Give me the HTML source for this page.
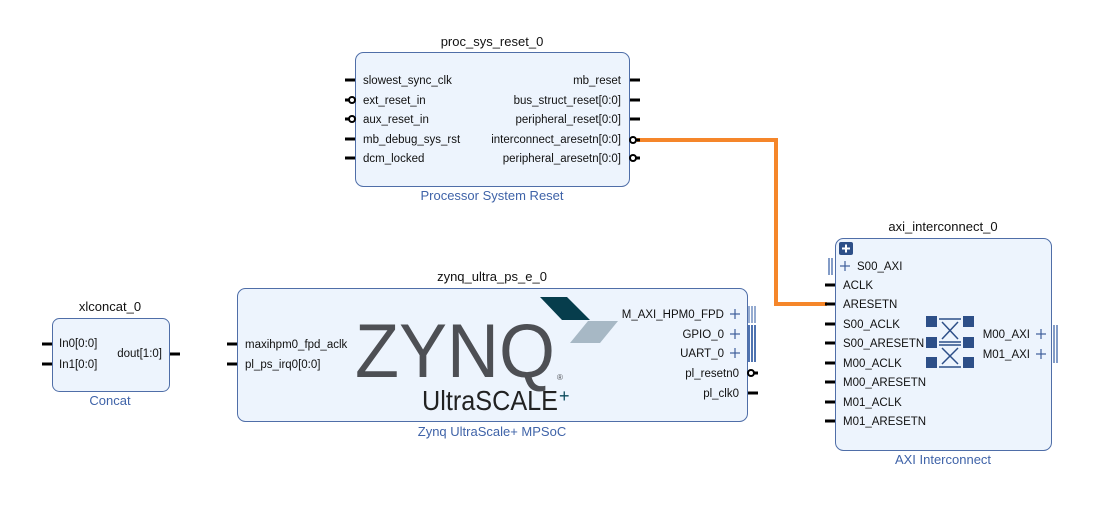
<!DOCTYPE html>
<html><head><meta charset="utf-8"><style>
html,body{margin:0;padding:0;background:#fff}
svg{display:block}
text{font-family:"Liberation Sans",sans-serif;fill:#111}
.p{font-size:11.5px}
.t{font-size:13px}
.s{font-size:13px;fill:#3f63a8}
.b{fill:#edf4fd;stroke:#4f6ea8;stroke-width:1}
.pin{stroke:#000;stroke-width:3}
.plus{stroke:#3f5f9a;stroke-width:1.2}
</style></head><body>
<svg width="1093" height="526" viewBox="0 0 1093 526">
<polyline points="637,140 776,140 776,304 827,304" fill="none" stroke="#f5862a" stroke-width="4"/>

<text class="t" x="492" y="46" text-anchor="middle">proc_sys_reset_0</text>
<rect class="b" x="355.5" y="52.5" width="274" height="134" rx="8"/>
<text class="s" x="492" y="200" text-anchor="middle">Processor System Reset</text>
<g class="p">
<text x="363" y="84">slowest_sync_clk</text>
<text x="363" y="104">ext_reset_in</text>
<text x="363" y="123">aux_reset_in</text>
<text x="363" y="143">mb_debug_sys_rst</text>
<text x="363" y="162">dcm_locked</text>
<text x="621" y="84" text-anchor="end">mb_reset</text>
<text x="621" y="104" text-anchor="end">bus_struct_reset[0:0]</text>
<text x="621" y="123" text-anchor="end">peripheral_reset[0:0]</text>
<text x="621" y="143" text-anchor="end">interconnect_aresetn[0:0]</text>
<text x="621" y="162" text-anchor="end">peripheral_aresetn[0:0]</text>
</g>
<line class="pin" x1="345" y1="80" x2="355" y2="80"/>
<line class="pin" x1="345" y1="100" x2="350" y2="100"/><circle cx="352" cy="100" r="3" fill="#fff" stroke="#000" stroke-width="2"/>
<line class="pin" x1="345" y1="119" x2="350" y2="119"/><circle cx="352" cy="119" r="3" fill="#fff" stroke="#000" stroke-width="2"/>
<line class="pin" x1="345" y1="139" x2="355" y2="139"/>
<line class="pin" x1="345" y1="158" x2="355" y2="158"/>
<line class="pin" x1="630" y1="80" x2="640" y2="80"/>
<line class="pin" x1="630" y1="100" x2="640" y2="100"/>
<line class="pin" x1="630" y1="119" x2="640" y2="119"/>
<circle cx="633" cy="140" r="3" fill="#fff" stroke="#000" stroke-width="2"/><line class="pin" x1="636" y1="140" x2="640" y2="140"/>
<circle cx="633" cy="158" r="3" fill="#fff" stroke="#000" stroke-width="2"/><line class="pin" x1="636" y1="158" x2="640" y2="158"/>

<text class="t" x="110" y="311" text-anchor="middle">xlconcat_0</text>
<rect class="b" x="52.5" y="318.5" width="117" height="73" rx="7"/>
<text class="s" x="110" y="405" text-anchor="middle">Concat</text>
<g class="p">
<text x="59" y="347">In0[0:0]</text>
<text x="59" y="368">In1[0:0]</text>
<text x="162" y="357" text-anchor="end">dout[1:0]</text>
</g>
<line class="pin" x1="42" y1="344" x2="52" y2="344"/>
<line class="pin" x1="42" y1="364" x2="52" y2="364"/>
<line class="pin" x1="170" y1="354" x2="180" y2="354"/>

<text class="t" x="492" y="281" text-anchor="middle">zynq_ultra_ps_e_0</text>
<rect class="b" x="237.5" y="288.5" width="510" height="133" rx="8"/>
<text class="s" x="492" y="436" text-anchor="middle">Zynq UltraScale+ MPSoC</text>
<polygon points="540,297 567,297 590,320 562,320" fill="#063d4c"/>
<polygon points="588,321 618,321 600,343 570,343" fill="#a7b8c5"/>
<text x="355" y="377" font-size="76" textLength="200" lengthAdjust="spacingAndGlyphs" style="fill:#4d4f54">ZYNQ</text>
<text x="557" y="380" font-size="8" style="fill:#4d4f54">®</text>
<text x="422" y="410" font-size="28" textLength="136" lengthAdjust="spacingAndGlyphs" style="fill:#222">UltraSCALE</text>
<text x="559" y="402" font-size="18" style="fill:#0b4a5c">+</text>
<g class="p">
<text x="245" y="348">maxihpm0_fpd_aclk</text>
<text x="245" y="368">pl_ps_irq0[0:0]</text>
<text x="724" y="318" text-anchor="end">M_AXI_HPM0_FPD</text>
<text x="724" y="338" text-anchor="end">GPIO_0</text>
<text x="724" y="357" text-anchor="end">UART_0</text>
<text x="739" y="377" text-anchor="end">pl_resetn0</text>
<text x="739" y="397" text-anchor="end">pl_clk0</text>
</g>
<line class="pin" x1="227" y1="344" x2="237" y2="344"/>
<line class="pin" x1="227" y1="364" x2="237" y2="364"/>
<g class="plus">
<line x1="730" y1="314" x2="740" y2="314"/><line x1="735" y1="309" x2="735" y2="319"/>
<line x1="730" y1="334" x2="740" y2="334"/><line x1="735" y1="329" x2="735" y2="339"/>
<line x1="730" y1="353" x2="740" y2="353"/><line x1="735" y1="348" x2="735" y2="358"/>
</g>
<g fill="#4f73b0">
<rect x="748" y="306" width="2" height="17" opacity=".6"/><rect x="751" y="306" width="2" height="17" opacity=".6"/><rect x="754" y="306" width="2" height="17" opacity=".6"/>
<rect x="748" y="325" width="2" height="37"/><rect x="751" y="325" width="2" height="37"/><rect x="754" y="325" width="2" height="37"/>
</g>
<circle cx="751" cy="373" r="3" fill="#fff" stroke="#000" stroke-width="2"/><line class="pin" x1="754" y1="373" x2="758" y2="373"/>
<line class="pin" x1="748" y1="393" x2="758" y2="393"/>

<text class="t" x="943" y="231" text-anchor="middle">axi_interconnect_0</text>
<rect class="b" x="835.5" y="238.5" width="216" height="212" rx="8"/>
<text class="s" x="943" y="464" text-anchor="middle">AXI Interconnect</text>
<rect x="839" y="242" width="14" height="13" rx="2" fill="#2d4f88"/>
<line x1="842" y1="248.5" x2="850" y2="248.5" stroke="#fff" stroke-width="2"/><line x1="846" y1="244.5" x2="846" y2="252.5" stroke="#fff" stroke-width="2"/>
<g class="plus">
<line x1="840" y1="266" x2="850" y2="266"/><line x1="845" y1="261" x2="845" y2="271"/>
<line x1="1036" y1="334" x2="1046" y2="334"/><line x1="1041" y1="329" x2="1041" y2="339"/>
<line x1="1036" y1="354" x2="1046" y2="354"/><line x1="1041" y1="349" x2="1041" y2="359"/>
</g>
<g fill="#4f73b0" opacity=".7">
<rect x="828" y="258" width="2" height="17"/><rect x="831" y="258" width="2" height="17"/>
<rect x="1053" y="325" width="2" height="38"/><rect x="1056" y="325" width="2" height="38"/>
</g>
<g class="p">
<text x="857" y="270">S00_AXI</text>
<text x="843" y="289">ACLK</text>
<text x="843" y="308">ARESETN</text>
<text x="843" y="328">S00_ACLK</text>
<text x="843" y="347">S00_ARESETN</text>
<text x="843" y="367">M00_ACLK</text>
<text x="843" y="386">M00_ARESETN</text>
<text x="843" y="406">M01_ACLK</text>
<text x="843" y="425">M01_ARESETN</text>
<text x="1030" y="338" text-anchor="end">M00_AXI</text>
<text x="1030" y="358" text-anchor="end">M01_AXI</text>
</g>
<line class="pin" x1="825" y1="285" x2="835" y2="285"/>
<line class="pin" x1="825" y1="304" x2="835" y2="304"/>
<line class="pin" x1="825" y1="324" x2="835" y2="324"/>
<line class="pin" x1="825" y1="343" x2="835" y2="343"/>
<line class="pin" x1="825" y1="363" x2="835" y2="363"/>
<line class="pin" x1="825" y1="382" x2="835" y2="382"/>
<line class="pin" x1="825" y1="402" x2="835" y2="402"/>
<line class="pin" x1="825" y1="421" x2="835" y2="421"/>
<g fill="#2d4f88">
<rect x="926" y="316" width="11" height="11"/><rect x="926" y="337" width="11" height="11"/><rect x="926" y="357" width="11" height="11"/>
<rect x="963" y="316" width="11" height="11"/><rect x="963" y="337" width="11" height="11"/><rect x="963" y="357" width="11" height="11"/>
</g>
<g stroke="#2d4f88" stroke-width="1.5" fill="none">
<line x1="939" y1="319" x2="961" y2="319"/><line x1="939" y1="342" x2="961" y2="342"/><line x1="939" y1="345" x2="961" y2="345"/><line x1="939" y1="367" x2="961" y2="367"/>
<line x1="942" y1="322" x2="958" y2="339"/><line x1="958" y1="322" x2="942" y2="339"/>
<line x1="942" y1="348" x2="958" y2="364"/><line x1="958" y1="348" x2="942" y2="364"/>
</g>
</svg>
</body></html>
